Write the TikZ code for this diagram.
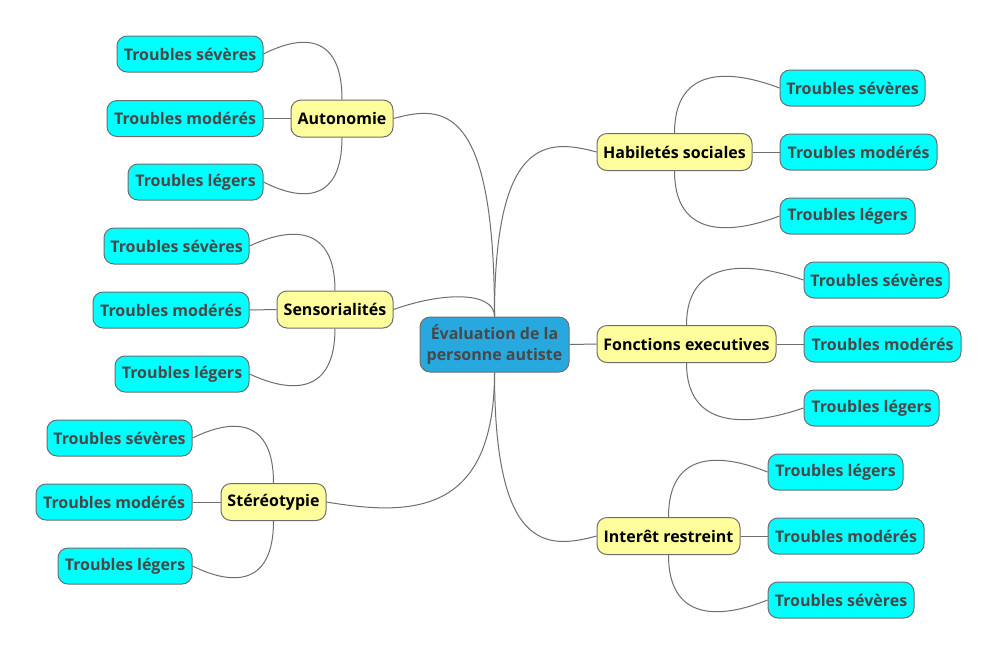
\documentclass[tikz,border=0pt]{standalone}
\usepackage{fontspec}
\setmainfont{Open Sans}
\usetikzlibrary{calc}
\definecolor{rootblue}{HTML}{27A9DF}
\definecolor{midyellow}{HTML}{FEFE9C}
\definecolor{leafcyan}{HTML}{00FFFF}
\definecolor{bordergray}{HTML}{6E6E6E}
\definecolor{linegray}{HTML}{6E6E6E}
\definecolor{textgray}{HTML}{484848}
\tikzset{
  box/.style={draw=bordergray, line width=1pt, rounded corners=10pt, inner sep=0pt,
    font=\fontsize{16}{21}\selectfont\bfseries, align=center},
  rootbox/.style={box, fill=rootblue, text=textgray, minimum width=149pt, minimum height=55pt},
  midbox/.style={box, fill=midyellow, text=black, minimum height=37pt},
  leafbox/.style={box, fill=leafcyan, text=textgray, minimum height=36pt},
  link/.style={draw=linegray, line width=1pt}
}
\newcommand\mmlink[3]{%
  \draw[link] (#1) .. controls ($(#1 |- #2)+(0,#3)$) and ($(#1 |- #2)!0.5!(#2)+(0,#3)$) .. (#2);}
\begin{document}
\begin{tikzpicture}[x=1pt,y=-1pt]
\useasboundingbox[fill=white] (0,0) rectangle (998,657);
% root
\node[rootbox] (C) at (494.5,344.5) {Évaluation de la\\personne autiste};
% left middle nodes
\node[midbox, minimum width=102pt] (A) at (342,118.5) {Autonomie};
\node[midbox, minimum width=116pt] (S) at (335,309.5) {Sensorialités};
\node[midbox, minimum width=105pt] (T) at (273.5,502) {Stéréotypie};
% right middle nodes
\node[midbox, minimum width=155pt] (H) at (674.5,152) {Habiletés sociales};
\node[midbox, minimum width=179pt] (F) at (686.5,344) {Fonctions executives};
\node[midbox, minimum width=143pt] (I) at (668.5,536) {Interêt restreint};
% leaves: Autonomie
\node[leafbox, minimum width=146pt] (A1) at (190,54) {Troubles sévères};
\node[leafbox, minimum width=156pt] (A2) at (185,118.5) {Troubles modérés};
\node[leafbox, minimum width=135pt] (A3) at (195.5,182) {Troubles légers};
% leaves: Sensorialites
\node[leafbox, minimum width=145pt] (S1) at (176.5,246) {Troubles sévères};
\node[leafbox, minimum width=156pt] (S2) at (171,310) {Troubles modérés};
\node[leafbox, minimum width=134pt] (S3) at (182,374) {Troubles légers};
% leaves: Stereotypie
\node[leafbox, minimum width=145pt] (T1) at (119.5,438) {Troubles sévères};
\node[leafbox, minimum width=156pt] (T2) at (114,502) {Troubles modérés};
\node[leafbox, minimum width=134pt] (T3) at (125,566) {Troubles légers};
% leaves: Habiletes
\node[leafbox, minimum width=145pt] (H1) at (852.5,88) {Troubles sévères};
\node[leafbox, minimum width=157pt] (H2) at (858.5,152) {Troubles modérés};
\node[leafbox, minimum width=135pt] (H3) at (847.5,216) {Troubles légers};
% leaves: Fonctions
\node[leafbox, minimum width=145pt] (F1) at (876.5,280) {Troubles sévères};
\node[leafbox, minimum width=157pt] (F2) at (882.5,344) {Troubles modérés};
\node[leafbox, minimum width=135pt] (F3) at (871.5,408) {Troubles légers};
% leaves: Interet
\node[leafbox, minimum width=135pt] (I1) at (835.5,472) {Troubles légers};
\node[leafbox, minimum width=156pt] (I2) at (846,536) {Troubles modérés};
\node[leafbox, minimum width=146pt] (I3) at (841,600) {Troubles sévères};
% root links
\mmlink{C.north}{A.east}{-14}
\mmlink{C.north}{S.east}{-18}
\mmlink{C.south}{T.east}{14}
\mmlink{C.north}{H.west}{-14}
\draw[link] (C.east) -- (F.west);
\mmlink{C.south}{I.west}{14}
% leaf links
\mmlink{A.north}{A1.east}{-20}
\draw[link] (A.west) -- (A2.east);
\mmlink{A.south}{A3.east}{20}
\mmlink{S.north}{S1.east}{-20}
\draw[link] (S.west) -- (S2.east);
\mmlink{S.south}{S3.east}{20}
\mmlink{T.north}{T1.east}{-20}
\draw[link] (T.west) -- (T2.east);
\mmlink{T.south}{T3.east}{20}
\mmlink{H.north}{H1.west}{-20}
\draw[link] (H.east) -- (H2.west);
\mmlink{H.south}{H3.west}{20}
\mmlink{F.north}{F1.west}{-20}
\draw[link] (F.east) -- (F2.west);
\mmlink{F.south}{F3.west}{20}
\mmlink{I.north}{I1.west}{-20}
\draw[link] (I.east) -- (I2.west);
\mmlink{I.south}{I3.west}{20}
\end{tikzpicture}
\end{document}
